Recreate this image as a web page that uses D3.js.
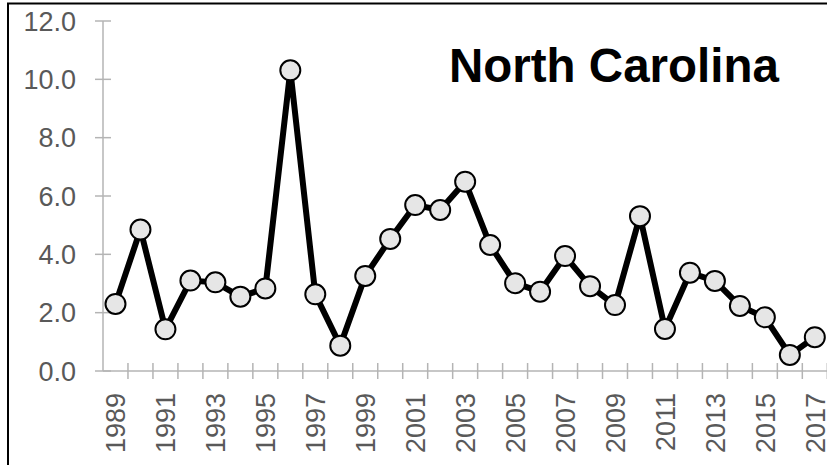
<!DOCTYPE html>
<html>
<head>
<meta charset="utf-8">
<script src="https://cdn.jsdelivr.net/npm/d3@7"></script>
<style>
  html, body { margin: 0; padding: 0; background: #fff; overflow: hidden; }
  svg { display: block; font-family: "Liberation Sans", Arial, sans-serif; }
</style>
</head>
<body>
<svg id="chart" width="827" height="465"></svg>
<script>
const years = [1989,1990,1991,1992,1993,1994,1995,1996,1997,1998,1999,2000,2001,2002,2003,2004,2005,2006,2007,2008,2009,2010,2011,2012,2013,2014,2015,2016,2017];
const values = [2.30,4.85,1.43,3.10,3.04,2.55,2.83,10.31,2.63,0.87,3.26,4.53,5.69,5.52,6.49,4.32,3.01,2.72,3.94,2.91,2.26,5.31,1.44,3.37,3.09,2.23,1.84,0.55,1.16];
const yTicks = [0,2,4,6,8,10,12];
const title = "North Carolina";

const svg = d3.select("#chart");

// outer chart border (cropped on right/bottom)
svg.append("rect")
  .attr("x", 8).attr("y", 3.5)
  .attr("width", 900).attr("height", 600)
  .attr("fill", "none").attr("stroke", "#000").attr("stroke-width", 2);

const x = d3.scaleBand().domain(years).range([103, 827.3]).padding(0);
const y = d3.scaleLinear().domain([0, 12]).range([371, 21]);

const gridColor = "#b4b4b4";
const labelColor = "#595959";

// Y axis
const yAxis = svg.append("g");
yAxis.append("line")
  .attr("x1", x.range()[0]).attr("x2", x.range()[0])
  .attr("y1", y(12)).attr("y2", y(0))
  .attr("stroke", gridColor).attr("stroke-width", 1.5);
yAxis.selectAll("line.tick").data(yTicks).enter().append("line")
  .attr("class", "tick")
  .attr("x1", 95).attr("x2", 111)
  .attr("y1", d => y(d)).attr("y2", d => y(d))
  .attr("stroke", gridColor).attr("stroke-width", 1.5);
yAxis.selectAll("text").data(yTicks).enter().append("text")
  .attr("x", 76).attr("y", d => y(d))
  .attr("dy", "0.36em")
  .attr("text-anchor", "end")
  .attr("font-size", 27)
  .attr("fill", labelColor)
  .text(d => d.toFixed(1));

// X axis
const xAxis = svg.append("g");
xAxis.append("line")
  .attr("x1", x.range()[0]).attr("x2", x.range()[1])
  .attr("y1", y(0)).attr("y2", y(0))
  .attr("stroke", gridColor).attr("stroke-width", 1.5);
const boundaries = years.map(d => x(d)).concat([x(years[years.length-1]) + x.bandwidth()]);
xAxis.selectAll("line.tick").data(boundaries.slice(1)).enter().append("line")
  .attr("class", "tick")
  .attr("x1", d => d).attr("x2", d => d)
  .attr("y1", y(0) - 8).attr("y2", y(0) + 8)
  .attr("stroke", gridColor).attr("stroke-width", 1.5);
xAxis.selectAll("text").data(years.filter((d, i) => i % 2 === 0)).enter().append("text")
  .attr("transform", d => `translate(${x(d) + x.bandwidth()/2},393) rotate(-90)`)
  .attr("dy", "0.36em")
  .attr("text-anchor", "end")
  .attr("font-size", 27)
  .attr("fill", labelColor)
  .text(d => d);

// Line
const pts = years.map((d, i) => [x(d) + x.bandwidth()/2, y(values[i])]);
svg.append("path")
  .datum(pts)
  .attr("d", d3.line())
  .attr("fill", "none")
  .attr("stroke", "#000")
  .attr("stroke-width", 6)
  .attr("stroke-linejoin", "miter");

svg.selectAll("circle").data(pts).enter().append("circle")
  .attr("cx", d => d[0]).attr("cy", d => d[1])
  .attr("r", 10)
  .attr("fill", "#e6e6e6")
  .attr("stroke", "#000")
  .attr("stroke-width", 2);

// Title
svg.append("text")
  .attr("x", 449).attr("y", 82)
  .attr("font-size", 47.5)
  .attr("font-weight", "bold")
  .attr("fill", "#000")
  .text(title);
</script>
</body>
</html>
